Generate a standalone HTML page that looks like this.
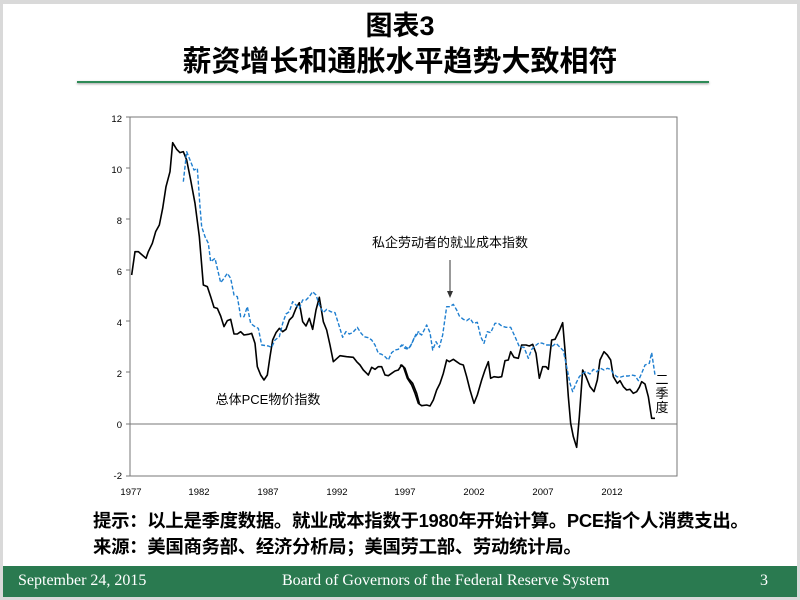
<!DOCTYPE html>
<html><head><meta charset="utf-8"><style>
body{margin:0;width:800px;height:600px;background:#d9d9d9;overflow:hidden;font-family:"Liberation Sans","Noto Sans CJK SC",sans-serif}
#slide{position:absolute;left:3px;top:4px;width:794px;height:593px;background:#fff}
.t{position:absolute;left:0;width:800px;text-align:center;font-weight:bold;color:#000;font-family:"Liberation Sans","Noto Sans CJK SC",sans-serif}
#foot{position:absolute;left:3px;top:566px;width:794px;height:31px;background:#2a7a50;color:#fff;font-family:"Liberation Serif",serif;font-size:16px}
#foot span{position:absolute;top:6px}
.note{position:absolute;left:93px;font-size:18.4px;font-weight:bold;white-space:nowrap;letter-spacing:-0.3px}
</style></head><body>
<div id="slide"></div>
<div class="t" style="top:4px;font-size:27px">图表3</div>
<div class="t" style="top:38px;font-size:29px">薪资增长和通胀水平趋势大致相符</div>
<div style="position:absolute;left:77px;top:81px;width:632px;height:2px;background:#2e8b57;box-shadow:0 1px 2px #999"></div>
<svg width="800" height="600" style="position:absolute;left:0;top:0" font-family="Liberation Sans, sans-serif">
<rect x="130" y="117" width="547" height="359" fill="none" stroke="#777" stroke-width="1"/>
<line x1="130" y1="424" x2="677" y2="424" stroke="#777"/>
<g font-size="9.5" text-anchor="end" fill="#000">
<text x="122" y="122">12</text><text x="122" y="173">10</text><text x="122" y="224">8</text><text x="122" y="275">6</text><text x="122" y="326">4</text><text x="122" y="377">2</text><text x="122" y="428">0</text><text x="122" y="479">-2</text>
</g>
<g stroke="#777"><line x1="126" y1="117" x2="130" y2="117"/><line x1="126" y1="168" x2="130" y2="168"/><line x1="126" y1="219" x2="130" y2="219"/><line x1="126" y1="270" x2="130" y2="270"/><line x1="126" y1="321" x2="130" y2="321"/><line x1="126" y1="372" x2="130" y2="372"/><line x1="126" y1="424" x2="130" y2="424"/><line x1="126" y1="476" x2="130" y2="476"/></g>
<g font-size="9.5" text-anchor="middle" fill="#000">
<text x="131" y="495">1977</text><text x="199" y="495">1982</text><text x="268" y="495">1987</text><text x="337" y="495">1992</text><text x="405" y="495">1997</text><text x="474" y="495">2002</text><text x="543" y="495">2007</text><text x="612" y="495">2012</text>
</g>
<g transform="translate(120,110) scale(0.33333)" fill="none" stroke-linejoin="round">
<polyline vector-effect="non-scaling-stroke" stroke="#000" stroke-width="1.6" points="35,495 45,425 55,425 78,445 85,425 97,400 107,365 118,345 128,295 138,230 150,185 158,98 170,118 180,128 190,125 200,150 212,210 225,280 238,380 250,525 262,530 272,560 282,592 292,595 302,618 312,650 322,632 332,628 342,672 352,672 362,665 372,675 385,673 395,670 405,700 412,770 422,795 432,810 442,795 450,740 458,690 468,668 478,655 488,665 498,658 508,630 518,620 528,595 538,578 548,635 558,648 568,625 578,658 588,600 598,562 610,635 620,660 630,705 640,755 660,737 680,740 700,742 710,755 720,765 730,780 740,790 745,795 755,772 765,778 775,770 785,770 795,795 805,797 815,790 825,783 835,780 845,765 855,775 865,805 878,820 890,850 898,880"/>
<polyline vector-effect="non-scaling-stroke" stroke="#1f7fd0" stroke-width="1.4" stroke-dasharray="4,2" points="190,215 200,125 210,150 222,180 232,175 240,290 245,350 255,380 265,400 272,455 285,445 302,518 312,505 322,490 332,505 342,555 352,560 362,620 372,620 382,590 392,640 402,648 415,655 425,705 445,708 455,712 465,690 478,680 488,640 498,612 508,605 518,575 528,585 538,595 548,570 558,570 568,560 578,545 588,555 598,585 610,608 620,598 632,605 645,608 655,640 668,682 678,665 688,672 698,668 712,652 722,668 732,680 745,683 755,690 765,705 775,730 785,733 795,740 805,750 815,728 825,720 835,718 845,705 855,715 865,718 878,695 890,668 898,665"/>
</g>
<g transform="translate(400,110) scale(0.33333)" fill="none" stroke-linejoin="round">
<polyline vector-effect="non-scaling-stroke" stroke="#000" stroke-width="1.6" points="0,765 10,770 22,805 35,825 45,850 55,880 65,887 80,885 90,888 100,870 110,840 120,820 130,790 140,750 148,755 160,748 170,755 180,762 190,765 200,800 210,840 222,880 232,855 245,810 255,780 265,755 272,805 282,800 295,802 305,800 315,752 325,750 332,725 342,742 355,745 365,705 378,705 388,708 398,703 408,730 418,805 428,770 438,770 445,778 455,690 465,688 478,662 488,638 495,720 505,860 512,940 520,980 530,1012 538,920 548,780 558,800 570,830 582,845 592,810 600,750 612,725 622,735 632,750 640,800 652,820 660,812 670,830 680,840 690,838 700,850 710,845 718,832 725,815 735,822 745,860 755,925 765,925"/>
<polyline vector-effect="non-scaling-stroke" stroke="#1f7fd0" stroke-width="1.4" stroke-dasharray="4,2" points="0,710 10,705 22,715 30,712 42,685 55,668 65,675 80,645 90,668 98,720 108,695 118,712 128,675 140,590 150,590 160,583 170,600 178,618 190,628 200,632 210,625 220,640 232,637 242,680 252,700 262,665 272,668 285,640 295,640 305,648 318,652 332,652 345,680 358,710 372,712 385,745 395,718 405,708 418,698 428,700 438,705 448,705 458,708 468,700 478,710 490,722 500,770 510,820 518,845 528,820 538,800 548,790 558,785 570,792 580,778 590,785 602,775 612,780 622,775 632,778 640,790 650,800 660,802 672,798 685,798 695,795 705,797 715,812 725,790 735,765 748,760 755,728 765,795"/>
</g>
<line x1="450" y1="260" x2="450" y2="292" stroke="#333" stroke-width="1"/>
<polygon points="447,291 453,291 450,298" fill="#333"/>
<g font-family="Liberation Sans, Noto Sans CJK SC, sans-serif" font-size="13" fill="#000">
<text x="450" y="247" text-anchor="middle">私企劳动者的就业成本指数</text>
<text x="268" y="404" text-anchor="middle">总体PCE物价指数</text>
<text x="662" y="384" text-anchor="middle">二</text>
<text x="662" y="398" text-anchor="middle">季</text>
<text x="662" y="412" text-anchor="middle">度</text>
</g>
</svg>
<div class="note" style="top:507px">提示：以上是季度数据。就业成本指数于1980年开始计算。PCE指个人消费支出。</div>
<div class="note" style="top:533px">来源：美国商务部、经济分析局；美国劳工部、劳动统计局。</div>
<div id="foot"><span style="left:15px">September 24, 2015</span><span style="left:279px">Board of Governors of the Federal Reserve System</span><span style="left:757px">3</span></div>
</body></html>
